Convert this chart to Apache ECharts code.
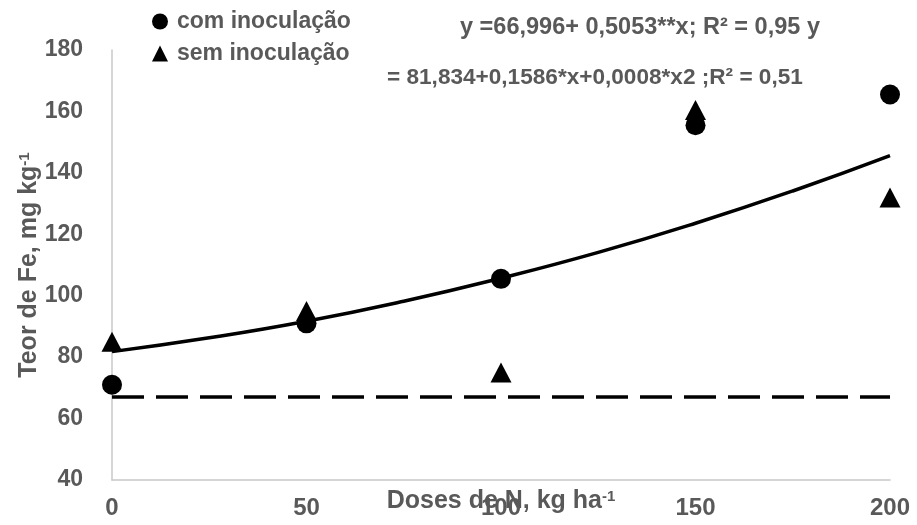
<!DOCTYPE html>
<html><head><meta charset="utf-8">
<script src="https://cdn.jsdelivr.net/npm/echarts@6/dist/echarts.min.js"></script>
<style>html,body{margin:0;padding:0;background:#fff}#c{width:917px;height:525px}</style>
</head><body><div id="c"></div>
<script>
const doses = [0, 50, 100, 150, 200];
const comInoc = [71, 91, 105.5, 155.5, 165.5];
const semInoc = [85, 95, 75, 160.5, 132];
const curveX = [0, 25, 50, 75, 100, 125, 150, 175, 200];
const curveY = [81.8, 86.3, 91.7, 98.2, 105.7, 114.1, 123.6, 134.1, 145.6];
const dashX = [0, 200];
const dashY = [67, 67];
const xTicks = [0, 50, 100, 150, 200];
const yTicks = [40, 60, 80, 100, 120, 140, 160, 180];
const eq1 = 'y =66,996+ 0,5053**x; R² = 0,95 y';
const eq2 = '= 81,834+0,1586*x+0,0008*x2 ;R² = 0,51';

const FONT = '"Liberation Sans", Arial, sans-serif';
const GREY = '#595959';
const zip = (a, b) => a.map((v, i) => [v, b[i]]);

const chart = echarts.init(document.getElementById('c'), null, {renderer: 'canvas'});
chart.setOption({
  animation: false,
  textStyle: {fontFamily: FONT},
  grid: {left: 112, right: 27, top: 50, bottom: 45, containLabel: false, outerBoundsMode: 'none'},
  legend: {
    orient: 'vertical', left: 147, top: 5, itemGap: 9, itemWidth: 16, itemHeight: 16,
    textStyle: {fontFamily: FONT, fontWeight: 'bold', fontSize: 23, color: GREY, padding: [0,0,0,4]},
    data: [{name: 'com inoculação', icon: 'circle'}, {name: 'sem inoculação', icon: 'triangle'}]
  },
  xAxis: {
    type: 'value', min: xTicks[0], max: xTicks[xTicks.length - 1], interval: 50,
    name: '{a|Doses de N, kg ha}{s|-1}', nameLocation: 'middle', nameGap: 9, nameMoveOverlap: false,
    nameTextStyle: {rich: {
      a: {fontFamily: FONT, fontWeight: 'bold', fontSize: 25, color: GREY},
      s: {fontFamily: FONT, fontWeight: 'bold', fontSize: 15, color: GREY, verticalAlign: 'top', padding: [0,0,10,0]}
    }},
    axisLine: {lineStyle: {color: '#c8c8c8', width: 1.5}},
    axisTick: {show: false}, splitLine: {show: false},
    axisLabel: {fontFamily: FONT, fontWeight: 'bold', fontSize: 24, color: GREY, margin: 16}
  },
  yAxis: {
    type: 'value', min: yTicks[0], max: yTicks[yTicks.length - 1], interval: 20,
    name: '{a|Teor de Fe, mg kg}{s|-1}', nameLocation: 'middle', nameGap: 70, nameRotate: 90, nameMoveOverlap: false,
    nameTextStyle: {rich: {
      a: {fontFamily: FONT, fontWeight: 'bold', fontSize: 25, color: GREY},
      s: {fontFamily: FONT, fontWeight: 'bold', fontSize: 15, color: GREY, verticalAlign: 'top', padding: [0,0,10,0]}
    }},
    axisLine: {show: true, lineStyle: {color: '#c8c8c8', width: 1.5}},
    axisTick: {show: false}, splitLine: {show: false},
    axisLabel: {fontFamily: FONT, fontWeight: 'bold', fontSize: 23, color: GREY, margin: 29, padding: [0,0,5,0]}
  },
  graphic: [
    {type: 'text', left: 460, top: 16, style: {text: eq1, fontFamily: FONT, fontWeight: 'bold', fontSize: 23.5, fill: GREY}},
    {type: 'text', left: 387, top: 66, style: {text: eq2, fontFamily: FONT, fontWeight: 'bold', fontSize: 22.6, fill: GREY}}
  ],
  series: [
    {type: 'line', data: zip(dashX, dashY), symbol: 'none', silent: true, z: 1,
     lineStyle: {color: '#000', width: 3.5, type: [32, 12]}},
    {type: 'line', data: zip(curveX, curveY), symbol: 'none', smooth: true, silent: true, z: 2,
     lineStyle: {color: '#000', width: 3.5}},
    {name: 'sem inoculação', type: 'scatter', data: zip(doses, semInoc), symbol: 'triangle', symbolSize: [21, 20],
     itemStyle: {color: '#000', opacity: 1}, z: 3},
    {name: 'com inoculação', type: 'scatter', data: zip(doses, comInoc), symbol: 'circle', symbolSize: 20,
     itemStyle: {color: '#000', opacity: 1}, z: 4}
  ]
});
</script></body></html>
